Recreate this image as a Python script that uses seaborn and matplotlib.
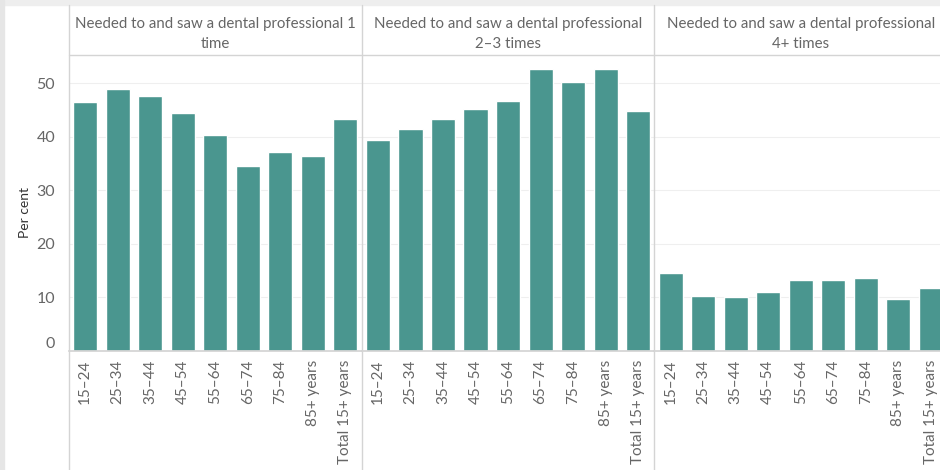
import pandas as pd
import seaborn as sns
import matplotlib.pyplot as plt
from matplotlib.patches import Rectangle
from matplotlib.lines import Line2D

# age groups and the three panels
ages = ['15–24', '25–34', '35–44', '45–54', '55–64', '65–74', '75–84',
        '85+ years', 'Total 15+ years']
panels = ['Needed to and saw a dental professional 1\ntime',
          'Needed to and saw a dental professional\n2–3 times',
          'Needed to and saw a dental professional\n4+ times']

# per cent values
once = [46.5, 49.0, 47.6, 44.4, 40.3, 34.6, 37.1, 36.4, 43.3]
two_three = [39.4, 41.5, 43.3, 45.2, 46.7, 52.7, 50.2, 52.7, 44.9]
four_plus = [14.6, 10.2, 10.0, 11.0, 13.2, 13.2, 13.6, 9.8, 11.8]

df = pd.DataFrame({
    'age': ages * 3,
    'panel': [panels[0]] * 9 + [panels[1]] * 9 + [panels[2]] * 9,
    'value': once + two_three + four_plus,
})

sns.set_theme(style='white')
plt.rcParams['font.family'] = ['Lato', 'DejaVu Sans']

W, H = 940, 470
fig = plt.figure(figsize=(9.4, 4.7), dpi=100)

bar_color = '#4A968F'
text_gray = '#666666'
line_gray = '#d4d4d4'

# panel geometry in pixels
x0, pw = 69, 292.7
top, base = 55, 351

# light frame round the dashboard
fig.patches.append(Rectangle((0, (H - 5) / H), 1, 5 / H, transform=fig.transFigure,
                             color='#eeeeee', zorder=0))
fig.patches.append(Rectangle((0, 0), 4 / W, 1, transform=fig.transFigure,
                             color='#e6e6e6', zorder=0))

for i, p in enumerate(panels):
    left = (x0 + i * pw) / W
    ax = fig.add_axes([left, (H - base) / H, pw / W, (base - top) / H])
    sub = df[df['panel'] == p]
    sns.barplot(data=sub, x='age', y='value', color=bar_color, width=0.74,
                saturation=1, ax=ax, order=ages)
    ax.set_xlim(-0.5, 8.5)
    ax.set_ylim(0, 55.3)
    ax.set_yticks([0, 10, 20, 30, 40, 50])
    ax.yaxis.grid(True, color='#efefef', linewidth=0.8)
    ax.set_axisbelow(True)
    ax.set_xlabel('')
    ax.set_ylabel('')
    for s in ['top', 'right', 'left']:
        ax.spines[s].set_visible(False)
    ax.spines['bottom'].set_color(line_gray)
    ax.tick_params(axis='x', rotation=90, labelsize=11, labelcolor=text_gray,
                   length=0, pad=6)
    for lab in ax.get_xticklabels():
        lab.set_verticalalignment('top')
    if i == 0:
        ax.tick_params(axis='y', labelsize=11.5, labelcolor=text_gray, length=3,
                       color='#e8e8e8', pad=7)
        ax.get_yticklabels()[0].set_verticalalignment('bottom')
        ax.set_ylabel('Per cent', fontsize=10, color='#333333')
        ax.yaxis.set_label_coords((31 - x0) / pw, (base - 212) / (base - top))
    else:
        ax.tick_params(axis='y', left=False, labelleft=False)
    # header text
    fig.text(left + pw / W / 2, (H - 34) / H, p, ha='center', va='center',
             fontsize=10.8, color=text_gray, linespacing=1.58)

# separators
for i in range(3):
    xx = (x0 + i * pw) / W
    fig.lines.append(Line2D([xx, xx], [0, (H - 5) / H], transform=fig.transFigure,
                            color=line_gray, linewidth=1))
fig.lines.append(Line2D([x0 / W, 1], [(H - top) / H] * 2, transform=fig.transFigure,
                        color=line_gray, linewidth=1))

fig.savefig('out.png', dpi=100)
